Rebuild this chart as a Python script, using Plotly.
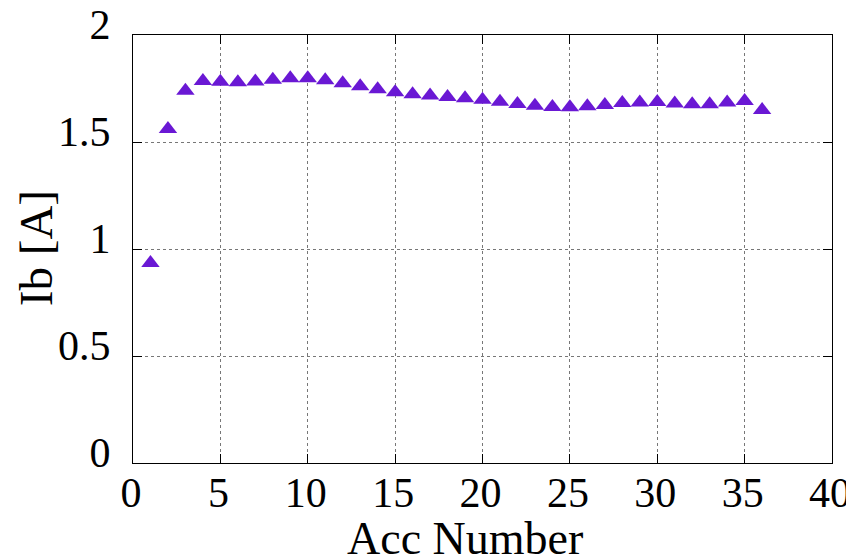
import plotly.graph_objects as go

acc_number = list(range(1, 37))
ib_values = [0.934, 1.561, 1.739, 1.785, 1.781, 1.779, 1.783, 1.791, 1.798, 1.798,
             1.789, 1.774, 1.760, 1.747, 1.732, 1.723, 1.717, 1.710, 1.704, 1.697,
             1.688, 1.677, 1.669, 1.664, 1.662, 1.667, 1.673, 1.682, 1.685, 1.687,
             1.680, 1.676, 1.676, 1.685, 1.692, 1.650]
x_ticks = [0, 5, 10, 15, 20, 25, 30, 35, 40]
y_ticks = [0, 0.5, 1, 1.5, 2]
y_tick_text = ["0", "0.5", "1", "1.5", "2"]

FONT = "Liberation Serif, Times New Roman, serif"

fig = go.Figure()
fig.add_trace(go.Scatter(
    x=acc_number, y=ib_values, mode="markers",
    marker=dict(symbol="triangle-up", size=16, color="#6a18d4",
                line=dict(width=0)),
    showlegend=False, cliponaxis=False,
))

axis_common = dict(
    showline=True, linecolor="black", linewidth=1, mirror="ticks",
    ticks="inside", ticklen=9, tickwidth=1, tickcolor="black",
    showgrid=True, gridcolor="#777777", gridwidth=1, griddash="dot",
    zeroline=False, automargin=False, ticklabeloverflow="allow",
    tickfont=dict(family=FONT, size=42, color="black"),
)

fig.update_xaxes(range=[0, 40], tickvals=x_ticks, ticklabelstandoff=-7,
                 ticklabelshift=-2, **axis_common)
fig.update_yaxes(range=[0, 2], tickvals=y_ticks, ticktext=y_tick_text,
                 ticklabelstandoff=13, ticklabelshift=-11, **axis_common)

fig.add_annotation(text="Acc Number", xref="paper", yref="paper",
                   x=(465 - 133) / 699, y=(463 - 538) / 428,
                   xanchor="center", yanchor="middle", showarrow=False,
                   font=dict(family=FONT, size=46, color="black"))
fig.add_annotation(text="Ib [A]", xref="paper", yref="paper",
                   x=(36 - 133) / 699, y=0.502, textangle=-90,
                   xanchor="center", yanchor="middle", showarrow=False,
                   font=dict(family=FONT, size=47, color="black"))

# page body has an 8px margin, so the figure origin sits at (8, 8)
fig.update_layout(
    width=846, height=547,
    margin=dict(l=125, r=22, t=27, b=92, autoexpand=False),
    plot_bgcolor="white", paper_bgcolor="white",
)

fig.write_html("out.html")
